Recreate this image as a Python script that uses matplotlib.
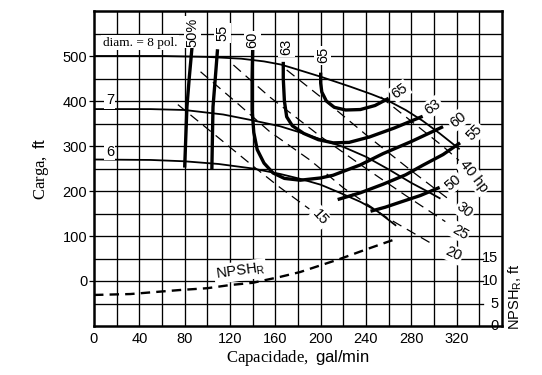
import matplotlib
matplotlib.use("Agg")
import matplotlib.pyplot as plt

# axis ticks
q_ticks = [0, 40, 80, 120, 160, 200, 240, 280, 320]
head_ticks = [0, 100, 200, 300, 400, 500]
npsh_ticks = [0, 5, 10, 15]

# impeller diameter curves (capacity gal/min, head ft)
d8_q = [0, 60, 100, 130, 150, 165, 182, 200, 226, 245, 260, 275, 290, 305, 322]
d8_h = [500, 500, 498, 494, 488, 481, 468, 454, 432, 415, 400, 380, 356, 328, 294]
d7_q = [0, 50, 80, 114, 138, 164, 182, 200, 220, 240, 260, 280, 295, 305]
d7_h = [382, 382, 380, 370, 358, 344, 330, 315, 298, 276, 248, 218, 198, 184]
d6_q = [0, 50, 80, 110, 140, 164, 182, 200, 217, 235, 250, 266]
d6_h = [270, 269, 266, 260, 250, 238, 227, 214, 196, 176, 155, 124]

# efficiency contours
e50a_q = [86.5, 84, 82, 81, 80]
e50a_h = [520, 450, 387, 320, 252]
e50b_q = [244, 257, 270, 288, 305]
e50b_h = [155, 164, 175, 190, 208]
e55a_q = [109, 107, 105, 104.5, 104]
e55a_h = [515, 450, 387, 320, 248]
e55b_q = [215, 235, 255, 275, 290, 308, 323]
e55b_h = [181, 196, 215, 236, 257, 281, 307]
e60_q = [140, 139.5, 139.5, 141, 144, 150, 158, 168, 182, 200, 211, 235, 255, 280, 308]
e60_h = [515, 450, 380, 330, 292, 262, 240, 228, 224, 229, 235, 258, 283, 310, 343]
e63_q = [167, 167, 168, 170, 175, 185, 198, 211, 225, 243, 265, 290]
e63_h = [487, 450, 400, 365, 345, 328, 314, 307, 308, 320, 340, 366]
e65_q = [200, 200, 201, 205, 212, 222, 235, 248, 260]
e65_h = [463, 440, 420, 400, 386, 380, 381, 390, 406]

# power lines (hp)
hp15_q = [74, 110, 140, 164, 190]
hp15_h = [392, 318, 256, 208, 160]
hp20_q = [94, 126, 155, 191, 220, 259, 300]
hp20_h = [465, 396, 332, 268, 207, 140, 80]
hp25_q = [123, 155, 200, 240, 275, 310]
hp25_h = [480, 409, 321, 250, 190, 132]
hp30_q = [170, 200, 240, 280, 315]
hp30_h = [469, 409, 325, 245, 178]
hp40_q = [253, 280, 308, 322]
hp40_h = [409, 355, 299, 268]

# NPSH required (ft)
npsh_q = [0, 32, 76, 100, 120, 140, 164, 182, 217, 241, 266]
npsh_ft = [6.9, 7.1, 8.0, 8.4, 9.1, 9.6, 10.9, 12.0, 14.9, 17.1, 19.3]

plt.rcParams.update({
    "font.family": "Liberation Sans",
    "font.size": 10,
    "mathtext.fontset": "custom",
    "mathtext.rm": "Liberation Serif",
    "mathtext.sf": "Liberation Sans",
    "mathtext.it": "Liberation Sans:italic",
})

fig = plt.figure(figsize=(5.42, 3.75), dpi=100)
ax = fig.add_axes([94 / 542, 49 / 375, 408 / 542, 315 / 375])
ax.set_xlim(0, 360)
ax.set_ylim(-100, 600)

# grid drawn by hand: lower rows stop at 340 to leave room for NPSH labels
for x in range(20, 360, 20):
    ax.axvline(x, color="black", lw=0.95, zorder=1)
for y in range(-50, 600, 50):
    x_end = 343 if y <= 50 else 360
    ax.plot([0, x_end], [y, y], color="black", lw=0.95, zorder=1)

for q, h in [(d8_q, d8_h), (d7_q, d7_h), (d6_q, d6_h)]:
    ax.plot(q, h, color="black", lw=1.3, zorder=3)

for q, h in [(e50a_q, e50a_h), (e50b_q, e50b_h), (e55a_q, e55a_h), (e55b_q, e55b_h),
             (e60_q, e60_h), (e63_q, e63_h), (e65_q, e65_h)]:
    ax.plot(q, h, color="black", lw=2.4, zorder=4, solid_capstyle="butt")

for q, h in [(hp15_q, hp15_h), (hp20_q, hp20_h), (hp25_q, hp25_h),
             (hp30_q, hp30_h), (hp40_q, hp40_h)]:
    ax.plot(q, h, color="black", lw=0.9, linestyle=(0, (8, 5)), zorder=3)

ax2 = ax.twinx()
ax2.set_ylim(0, 70)
ax2.plot(npsh_q, npsh_ft, color="black", lw=1.7, linestyle=(0, (4, 2.6)), zorder=3)
ax2.set_yticks([])
for v in npsh_ticks:
    ax2.text(357, v, str(v), ha="right", va="center", fontsize=10.5)
for s in ax2.spines.values():
    s.set_visible(False)

ax.set_xticks(q_ticks)
ax.set_yticks(head_ticks)
ax.tick_params(axis="x", length=0, pad=4, labelsize=10.5)
ax.tick_params(axis="y", length=3.4, width=0.9, pad=1.5, labelsize=10.5)
for s in ax.spines.values():
    s.set_linewidth(1.8)

box = dict(facecolor="white", edgecolor="none", pad=1)
ax.text(40.5, 529, "diam. = 8 pol.", family="Liberation Serif", fontsize=9.5,
        ha="center", va="center", bbox=box, zorder=5)
ax.text(14, 402, "7", ha="center", va="center", fontsize=10.5, bbox=box, zorder=5)
ax.text(14, 287, "6", ha="center", va="center", fontsize=10.5, bbox=box, zorder=5)

for q, h, s in [(87, 553, "50%"), (113, 551, "55"), (140, 535, "60"),
                (170, 520, "63"), (202, 502, "65")]:
    ax.text(q, h, s, rotation=90, ha="center", va="center", fontsize=10.5,
            bbox=box, zorder=5)

for q, h, s, r in [(270, 422, "65", 35), (299, 387, "63", 35), (321, 358, "60", 38),
                   (336, 330, "55", 45), (317, 219, "50", 40)]:
    ax.text(q, h, s, rotation=r, ha="center", va="center", fontsize=10.5,
            bbox=box, zorder=5)

for q, h, s, r in [(200, 142, "15", -48), (317, 60, "20", -25), (323, 108, "25", -30),
                   (327, 157, "30", -38), (335, 232, "40 hp", -52)]:
    ax.text(q, h, s, rotation=r, ha="center", va="center", fontsize=10.5,
            bbox=box, zorder=5)

ax.text(129, 22, r"NPSH$_\mathsf{R}$", rotation=8, ha="center", va="center",
        fontsize=10.5, bbox=box, zorder=5)

ax.text(372, -35, r"NPSH$_\mathsf{R}$, ft", rotation=90, ha="center", va="center",
        fontsize=10.5, clip_on=False)
ax.set_xlabel(r"$\mathrm{Capacidade,}\ \mathsf{gal/min}$", fontsize=12, labelpad=2)
ax.set_ylabel(r"$\mathrm{Carga,}\ \mathsf{ft}$", fontsize=12, labelpad=8)

fig.savefig("out.png", dpi=100)
